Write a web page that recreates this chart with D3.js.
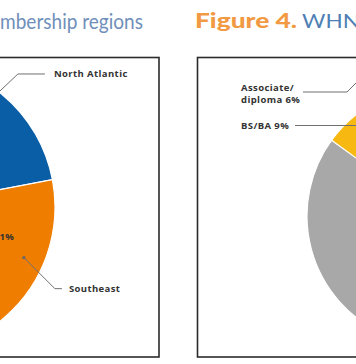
<!DOCTYPE html>
<html><head><meta charset="utf-8">
<script src="https://cdn.jsdelivr.net/npm/d3@7"></script>
<style>body{margin:0;background:#fff}svg{display:block}</style>
</head><body>
<svg id="c" width="356" height="364"></svg>
<script>
// Left chart (membership regions) - only North Atlantic & Southeast visible; others guessed (off-canvas)
const regionNames  = ["North Atlantic", "Southeast", "Midwest", "West", "Southwest"];
const regionValues = [22, 31, 19, 16, 12];
const regionColors = ["#0a5ea6", "#ef7d00", "#7aa4cf", "#9c9c9c", "#f5b400"];
// Right chart (Figure 4, education)
const eduNames  = ["Master's", "BS/BA", "Associate/diploma"];
const eduValues = [85, 9, 6];
const eduColors = ["#a8a8a8", "#f6b811", "#f9d56a"];
const leftTitle = "mbership regions";
const rightTitleA = "Figure 4.";
const rightTitleB = "WHN";

const svg = d3.select("#c");
const polar = (c, a, r) => [c[0] + r * Math.sin(a), c[1] - r * Math.cos(a)];

// titles
svg.append("text").attr("x", 143).attr("y", 29).attr("text-anchor", "end")
  .attr("font-family", "Lato, 'Open Sans', sans-serif").attr("font-size", 21)
  .attr("fill", "#6f8fba").attr("textLength", 143).attr("lengthAdjust", "spacingAndGlyphs")
  .text(leftTitle);
const t2 = svg.append("text").attr("y", 28).attr("font-family", "Lato, 'Open Sans', sans-serif").attr("font-size", 20);
t2.append("tspan").attr("x", 195).attr("font-weight", 900).attr("fill", "#f29a43")
  .attr("textLength", 102).attr("lengthAdjust", "spacingAndGlyphs").text(rightTitleA);
t2.append("tspan").attr("x", 302).attr("fill", "#4f7fb5").attr("textLength", 58)
  .attr("lengthAdjust", "spacingAndGlyphs").text(rightTitleB);

// frames
svg.append("rect").attr("x", -60).attr("y", 57.5).attr("width", 219).attr("height", 299.5)
  .attr("fill", "none").attr("stroke", "#2b2b2b").attr("stroke-width", 1.6);
svg.append("rect").attr("x", 197.5).attr("y", 57.5).attr("width", 219).attr("height", 299.5)
  .attr("fill", "none").attr("stroke", "#2b2b2b").attr("stroke-width", 1.6);

const pie = d3.pie().sort(null).value(d => d);

function drawPie(center, R, values, colors) {
  const arc = d3.arc().innerRadius(0).outerRadius(R);
  const arcs = pie(values);
  const g = svg.append("g").attr("transform", `translate(${center[0]},${center[1]})`);
  g.selectAll("path").data(arcs).join("path")
    .attr("d", arc).attr("fill", (d, i) => colors[i])
    .attr("stroke", "#fff").attr("stroke-width", 1.2);
  return arcs;
}

const lc = [-91, 207], LR = 146;
const rc = [436, 216], RR = 129;
const la = drawPie(lc, LR, regionValues, regionColors);
const ra = drawPie(rc, RR, eduValues, eduColors);

const labelFont = "'Open Sans', 'DejaVu Sans', sans-serif";
function label(x, y, txt, anchor) {
  svg.append("text").attr("x", x).attr("y", y).attr("text-anchor", anchor || "start")
    .attr("font-family", labelFont).attr("font-weight", 700).attr("font-size", 9.5)
    .attr("letter-spacing", 0.4).attr("fill", "#333").text(txt);
}
function leader(pts) {
  svg.append("path").attr("d", d3.line()(pts)).attr("fill", "none")
    .attr("stroke", "#707070").attr("stroke-width", 1);
}

// percentage label inside the Southeast slice
{
  const d = la[1];
  const a = d.startAngle + 0.25 * (d.endAngle - d.startAngle);
  const p = polar(lc, a, LR * 0.68);
  label(p[0], p[1] + 3.5, regionValues[1] + "%", "middle");
}

// North Atlantic leader (edge of slice)
{
  const d = la[0];
  const p = polar(lc, d.startAngle + 0.48 * (d.endAngle - d.startAngle), LR);
  const e = [p[0] + 19, p[1] - 18];
  leader([p, e, [e[0] + 27, e[1]]]);
  label(e[0] + 36, e[1] + 3.5, regionNames[0]);
}
// Southeast leader (dot inside slice)
{
  const d = la[1];
  const p = polar(lc, d.startAngle + 0.31 * (d.endAngle - d.startAngle), LR * 0.86);
  svg.append("circle").attr("cx", p[0]).attr("cy", p[1]).attr("r", 1.6).attr("fill", "#666");
  const e = [p[0] + 31, p[1] + 31];
  leader([p, e, [e[0] + 7, e[1]]]);
  label(e[0] + 14, e[1] + 3.5, regionNames[1]);
}

// right labels
{
  const d = ra[2];
  const p = polar(rc, (d.startAngle + d.endAngle) / 2, RR * 0.8);
  const y = 92;
  leader([[303, y], [347, y], [347 + 30, y - 30], p]);
  label(241, 91, "Associate/");
  label(241, 103, "diploma " + eduValues[2] + "%");
}
{
  const d = ra[1];
  const p = polar(rc, (d.startAngle + d.endAngle) / 2, RR * 0.8);
  leader([[295, 125.5], [Math.max(p[0], 380), 125.5]]);
  label(241, 129, eduNames[1] + " " + eduValues[1] + "%");
}
</script>
</body></html>
